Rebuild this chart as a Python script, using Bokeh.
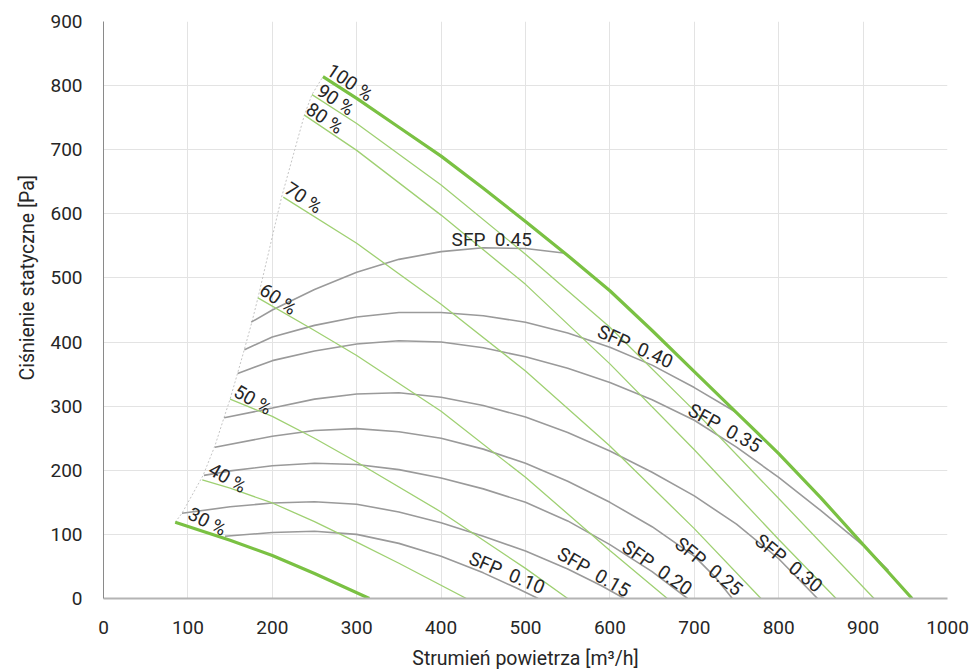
import numpy as np
from bokeh.plotting import figure
from bokeh.models import Range1d, FixedTicker, Title
from bokeh.core.properties import value
from bokeh.embed import file_html
from bokeh.resources import INLINE

# ---------------- data ----------------
x_ticks = [0, 100, 200, 300, 400, 500, 600, 700, 800, 900, 1000]
y_ticks = [0, 100, 200, 300, 400, 500, 600, 700, 800, 900]

# fan speed curves (air flow m3/h, static pressure Pa)
pct_100_x = [260, 300, 350, 400, 450, 500, 550, 600, 650, 700, 750, 800, 850, 900, 930, 958]
pct_100_y = [814, 780, 735, 690, 640, 588, 535, 480, 418, 354, 290, 226, 157, 84, 41, 0]
pct_90_x = [247, 300, 400, 500, 600, 700, 800, 913]
pct_90_y = [786, 741, 645, 537, 423, 293, 156, 0]
pct_80_x = [238, 300, 400, 500, 600, 700, 800, 868]
pct_80_y = [754, 699, 598, 490, 366, 232, 92, 0]
pct_70_x = [213, 300, 400, 500, 600, 700, 779]
pct_70_y = [626, 554, 459, 355, 238, 109, 0]
pct_60_x = [183, 250, 300, 400, 500, 600, 668]
pct_60_y = [469, 418, 379, 292, 189, 75, 0]
pct_50_x = [150, 200, 250, 300, 400, 500, 550]
pct_50_y = [311, 284, 250, 213, 135, 47, 0]
pct_40_x = [117, 150, 200, 250, 300, 350, 430]
pct_40_y = [185, 172, 149, 120, 88, 55, 0]
pct_30_x = [85, 150, 200, 250, 315]
pct_30_y = [119, 91, 67, 39, 0]

# SFP iso-lines
sfp_045_x = [175, 200, 250, 300, 350, 400, 450, 500, 545]
sfp_045_y = [431, 450, 482, 509, 529, 541, 547, 546, 539]
sfp_040_x = [167, 200, 250, 300, 350, 400, 450, 500, 550, 600, 650, 700, 749]
sfp_040_y = [388, 408, 426, 439, 446, 446, 441, 431, 414, 392, 364, 329, 291]
sfp_035_x = [159, 200, 250, 300, 350, 400, 450, 500, 550, 600, 650, 700, 750, 800, 850, 900, 930]
sfp_035_y = [351, 371, 386, 397, 402, 400, 391, 377, 359, 337, 310, 278, 236, 189, 137, 83, 44]
sfp_030_x = [143, 200, 250, 300, 350, 400, 450, 500, 550, 600, 650, 700, 750, 800, 846]
sfp_030_y = [282, 297, 311, 319, 321, 314, 301, 283, 259, 230, 197, 160, 116, 62, 0]
sfp_025_x = [132, 200, 250, 300, 350, 400, 450, 500, 550, 600, 650, 700, 725, 745]
sfp_025_y = [236, 253, 262, 265, 260, 250, 233, 211, 183, 150, 112, 66, 33, 0]
sfp_020_x = [119, 150, 200, 250, 300, 350, 400, 450, 500, 550, 600, 650, 692]
sfp_020_y = [192, 199, 207, 211, 209, 201, 188, 171, 150, 121, 84, 42, 0]
sfp_015_x = [93, 150, 200, 250, 300, 350, 400, 450, 500, 550, 590, 617]
sfp_015_y = [133, 143, 149, 151, 147, 135, 118, 97, 74, 46, 20, 0]
sfp_010_x = [144, 200, 250, 300, 350, 400, 450, 490, 515]
sfp_010_y = [97, 103, 105, 100, 86, 66, 40, 16, 0]

# working-range boundary (left edge)
bound_x = [85, 93, 118, 132, 143, 150, 159, 167, 176, 183, 211, 238, 247, 260]
bound_y = [119, 133, 192, 238, 283, 311, 352, 389, 432, 469, 626, 754, 786, 814]

NB = "\u00a0"
pct_labels = ["100 %", "90 %", "80 %", "70 %", "60 %", "50 %", "40 %", "30 %"]
sfp_labels = ["SFP" + NB + NB + v for v in ["0.45", "0.40", "0.35", "0.30",
                                            "0.25", "0.20", "0.15", "0.10"]]

# label placement (annotation anchors)
pct_lab_x = [292, 275, 262, 237, 207, 177, 147, 123]
pct_lab_y = [805, 778, 749, 625, 467, 310, 188, 120]
pct_lab_ang = [-34, -34, -34, -34, -34, -30, -30, -27]
sfp_lab_x = [460, 630, 736, 812, 717, 656, 581, 478]
sfp_lab_y = [560, 393, 266, 55, 50, 48, 41, 40]
sfp_lab_ang = [0, -24, -29, -39, -39, -35, -30, -23]

# ---------------- figure ----------------
FONT = "Roboto"
TXT = "#262626"
GRAY = "#9a9a9a"
GREEN = "#9fd072"
GREEN_THICK = "#7ac143"

p = figure(width=972, height=672, x_range=Range1d(0, 1000), y_range=Range1d(0, 900),
           output_backend="svg", toolbar_location=None,
           min_border_left=103, min_border_right=25, min_border_top=21, min_border_bottom=74)
p.outline_line_color = None
p.background_fill_color = "white"

p.xaxis.ticker = FixedTicker(ticks=x_ticks)
p.yaxis.ticker = FixedTicker(ticks=y_ticks)
p.xgrid.ticker = FixedTicker(ticks=x_ticks[1:-1])
p.ygrid.ticker = FixedTicker(ticks=y_ticks[1:])
p.xgrid.grid_line_color = "#e3e3e3"
p.ygrid.grid_line_color = "#e3e3e3"

for ax in (p.xaxis[0], p.yaxis[0]):
    ax.major_tick_line_color = None
    ax.minor_tick_line_color = None
    ax.major_label_text_font = FONT
    ax.major_label_text_font_size = "19px"
    ax.major_label_text_color = TXT
    ax.axis_label_text_font = FONT
    ax.axis_label_text_font_size = "19.5px"
    ax.axis_label_text_font_style = "normal"
    ax.axis_label_text_color = TXT

p.xaxis.axis_line_color = "#b4b4b4"
p.xaxis.axis_line_width = 2
p.yaxis.axis_line_color = "#8a8a8a"
p.yaxis.axis_line_width = 1
p.xaxis.major_label_standoff = 16
p.yaxis.major_label_standoff = 15
p.xaxis.axis_label = "Strumień powietrza [m³/h]"
p.xaxis.axis_label_standoff = 10

# y-axis title, placed above the frame centre as in the reference
p.add_layout(Title(text="Ciśnienie statyczne [Pa]", align="left", offset=218, standoff=18,
                   text_font=FONT, text_font_size="19.5px", text_font_style="normal",
                   text_color=TXT), "left")

# boundary
p.line(bound_x, bound_y, line_color="#c4c4c4", line_width=1, line_dash="2 2")

# SFP curves
for xs, ys in [(sfp_045_x, sfp_045_y), (sfp_040_x, sfp_040_y), (sfp_035_x, sfp_035_y),
               (sfp_030_x, sfp_030_y), (sfp_025_x, sfp_025_y), (sfp_020_x, sfp_020_y),
               (sfp_015_x, sfp_015_y), (sfp_010_x, sfp_010_y)]:
    p.line(xs, ys, line_color=GRAY, line_width=1.6)

# speed curves
for xs, ys in [(pct_90_x, pct_90_y), (pct_80_x, pct_80_y), (pct_70_x, pct_70_y),
               (pct_60_x, pct_60_y), (pct_50_x, pct_50_y), (pct_40_x, pct_40_y)]:
    p.line(xs, ys, line_color=GREEN, line_width=1.3)
for xs, ys in [(pct_100_x, pct_100_y), (pct_30_x, pct_30_y)]:
    p.line(xs, ys, line_color=GREEN_THICK, line_width=3.2)

# labels
p.text(x=pct_lab_x, y=pct_lab_y, text=pct_labels, angle=pct_lab_ang, angle_units="deg",
       text_font=value(FONT), text_font_size="19px", text_color=TXT,
       text_align="center", text_baseline="middle")
p.text(x=sfp_lab_x, y=sfp_lab_y, text=sfp_labels, angle=sfp_lab_ang, angle_units="deg",
       text_font=value(FONT), text_font_size="19px", text_color=TXT,
       text_align="center", text_baseline="middle")

open("out.html", "w").write(file_html(p, INLINE))
